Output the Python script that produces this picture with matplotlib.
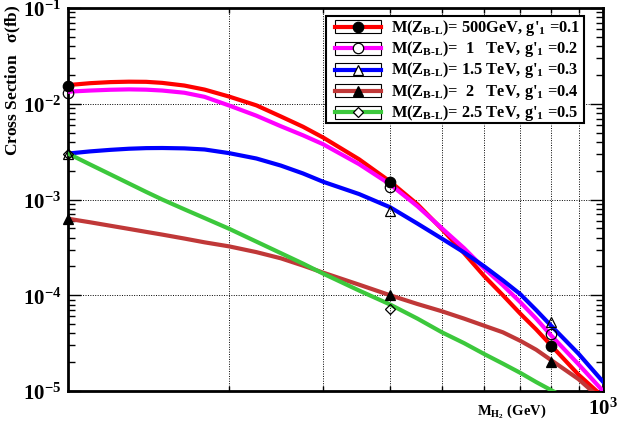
import matplotlib.pyplot as plt
from matplotlib.lines import Line2D
from matplotlib.patches import Rectangle
from matplotlib.ticker import FixedLocator, NullFormatter, LogLocator, FixedFormatter

plt.rcParams['font.family'] = 'Liberation Serif'
plt.rcParams['font.weight'] = 'bold'
plt.rcParams['mathtext.fontset'] = 'custom'
plt.rcParams['mathtext.rm'] = 'Liberation Serif:bold'
plt.rcParams['mathtext.it'] = 'Liberation Serif:bold'
plt.rcParams['mathtext.bf'] = 'Liberation Serif:bold'

# Higgs mass (GeV) and cross sections (fb) for each Z_B-L benchmark
mass = [100, 110, 120, 130, 140, 150, 165, 180, 200, 225, 250, 275, 300, 350,
        400, 450, 500, 550, 600, 650, 700, 750, 800, 900, 1000]
xs_500 = [0.01567, 0.0164, 0.01683, 0.0170, 0.01694, 0.01652, 0.01549, 0.01406, 0.01189,
          0.00962, 0.00736, 0.00575, 0.00443, 0.00263, 0.00154, 8.9e-4, 4.9e-4, 2.75e-4,
          1.58e-4, 1.0e-4, 6.45e-5, 4.4e-5, 2.99e-5, 1.48e-5, 8.7e-6]
xs_1000 = [0.01337, 0.01374, 0.01400, 0.01413, 0.01403, 0.01374, 0.01303, 0.0118, 0.00959,
           0.0075, 0.00582, 0.00468, 0.00377, 0.00234, 0.00144, 8.5e-4, 5.0e-4, 3.1e-4,
           1.9e-4, 1.27e-4, 8.5e-5, 5.7e-5, 3.8e-5, 1.9e-5, 1.0e-5]
xs_1500 = [0.00302, 0.00318, 0.0033, 0.00339, 0.00344, 0.00345, 0.00342, 0.00333, 0.00305,
           0.00268, 0.00226, 0.00187, 0.00153, 0.00114, 8.3e-4, 5.6e-4, 3.9e-4, 2.8e-4,
           2.0e-4, 1.43e-4, 1.03e-4, 7.0e-5, 4.8e-5, 2.45e-5, 1.25e-5]
xs_2000 = [6.3e-4, 5.78e-4, 5.32e-4, 4.93e-4, 4.59e-4, 4.3e-4, 3.91e-4, 3.57e-4, 3.24e-4,
           2.82e-4, 2.43e-4, 2.04e-4, 1.72e-4, 1.29e-4, 1.0e-4, 8.1e-5, 6.8e-5, 5.7e-5,
           4.8e-5, 4.1e-5, 3.35e-5, 2.7e-5, 2.1e-5, 1.33e-5, 7.9e-6]
xs_2500 = [0.00302, 0.00232, 0.00183, 0.00147, 0.0012, 0.0010, 7.9e-4, 6.4e-4, 4.95e-4,
           3.63e-4, 2.75e-4, 2.14e-4, 1.68e-4, 1.12e-4, 8.0e-5, 5.7e-5, 4.1e-5, 3.16e-5,
           2.43e-5, 1.93e-5, 1.55e-5, 1.24e-5, 1.02e-5, 7.2e-6, 5.2e-6]

# marker points
mass_pts = [100, 400, 800]
pts_500 = [0.0155, 0.00153, 2.95e-5]
pts_1000 = [0.0129, 0.00135, 3.9e-5]
pts_1500 = [0.0030, 7.5e-4, 5.3e-5]
pts_2000 = [6.3e-4, 1.0e-4, 2.0e-5]
pts_2500 = [0.0030, 7.2e-5]

labels = [
    r"M(Z$_{\mathrm{B}\text{-}\mathrm{L}}$)= 500GeV, g$'_1$ =0.1",
    r"M(Z$_{\mathrm{B}\text{-}\mathrm{L}}$)=  1   TeV, g$'_1$ =0.2",
    r"M(Z$_{\mathrm{B}\text{-}\mathrm{L}}$)= 1.5 TeV, g$'_1$ =0.3",
    r"M(Z$_{\mathrm{B}\text{-}\mathrm{L}}$)=  2   TeV, g$'_1$ =0.4",
    r"M(Z$_{\mathrm{B}\text{-}\mathrm{L}}$)= 2.5 TeV, g$'_1$ =0.5",
]
colors = ['#ff0000', '#ff00ff', '#0000ff', '#c03838', '#3cc83c']
markers = ['o', 'o', '^', '^', 'D']
filled = [True, False, False, True, False]
curves = [xs_500, xs_1000, xs_1500, xs_2000, xs_2500]
points = [pts_500, pts_1000, pts_1500, pts_2000, pts_2500]

W, H = 630, 439
fig = plt.figure(figsize=(W / 100, H / 100), dpi=100)
ax = fig.add_axes([68 / W, 1 - 392 / H, (603 - 68) / W, (392 - 9) / H])

for ys, c in zip(curves, colors):
    ax.plot(mass, ys, color=c, lw=3.0, solid_joinstyle='round', zorder=3)

for pts, m, f in zip(points, markers, filled):
    ms = 5.5 if m == 'D' else 7.5
    ax.plot(mass_pts[:len(pts)], pts, ls='none', marker=m, ms=ms,
            mfc='black' if f else 'none', mec='black', mew=0.9, zorder=4, clip_on=False)

ax.set_xscale('log')
ax.set_yscale('log')
ax.set_xlim(100, 1000)
ax.set_ylim(1e-5, 1e-1)

ax.xaxis.set_major_locator(FixedLocator([1000]))
ax.xaxis.set_major_formatter(FixedFormatter([r'$10^{3}$']))
ax.xaxis.set_minor_locator(FixedLocator([200, 300, 400, 500, 600, 700, 800, 900]))
ax.xaxis.set_minor_formatter(NullFormatter())
ax.yaxis.set_major_locator(LogLocator(base=10, numticks=10))
ax.yaxis.set_minor_locator(LogLocator(base=10, subs=range(2, 10), numticks=10))
ax.yaxis.set_minor_formatter(NullFormatter())

ax.tick_params(which='both', direction='in', top=True, right=True, width=1.0, labelsize=15)
ax.tick_params(axis='y', which='major', length=9.5, pad=5)
ax.tick_params(axis='y', which='minor', length=5)
ax.tick_params(axis='x', which='both', length=3.5, pad=5)

ax.grid(which='major', axis='y', ls=(0, (1, 1.5)), color='black', lw=0.7)
ax.grid(which='minor', axis='x', ls=(0, (1, 1.5)), color='black', lw=0.7)
for s in ax.spines.values():
    s.set_linewidth(2.0)

fig.text(13 / W, 1 - 4 / H, r"Cross Section   $\sigma$(fb)", rotation=90,
         ha='center', va='top', fontsize=12.5)
fig.text(546 / W, 1 - 412 / H, r"M$_{\mathrm{H}_2}$ (GeV)", ha='right', va='center', fontsize=10.5)

# legend with boxed line samples
lx0, lx1, ly0, ly1 = 326, 584, 17, 124
fig.add_artist(Rectangle((lx0 / W, 1 - ly1 / H), (lx1 - lx0) / W, (ly1 - ly0) / H,
                         transform=fig.transFigure, fill=True, fc='white', ec='black', lw=1.5, zorder=10))
row_h = (ly1 - ly0) / 5
for i, (lab, c, m, f) in enumerate(zip(labels, colors, markers, filled)):
    yc = ly0 + row_h * (i + 0.5)
    fig.add_artist(Rectangle((335 / W, 1 - (yc + 6.5) / H), 46 / W, 13 / H,
                             transform=fig.transFigure, fill=False, ec='black', lw=0.8, zorder=11))
    fig.add_artist(Line2D([335 / W, 381 / W], [1 - yc / H] * 2, transform=fig.transFigure,
                          color=c, lw=3.0, zorder=11))
    fig.add_artist(Line2D([358 / W], [1 - yc / H], transform=fig.transFigure, ls='none',
                          marker=m, ms=5.5 if m == 'D' else 7.5, mfc='black' if f else 'white',
                          mec='black', mew=0.9, zorder=12))
    fig.text(391 / W, 1 - yc / H, lab, ha='left', va='center', fontsize=11.8, zorder=12)

fig.savefig('out.png', dpi=100)
